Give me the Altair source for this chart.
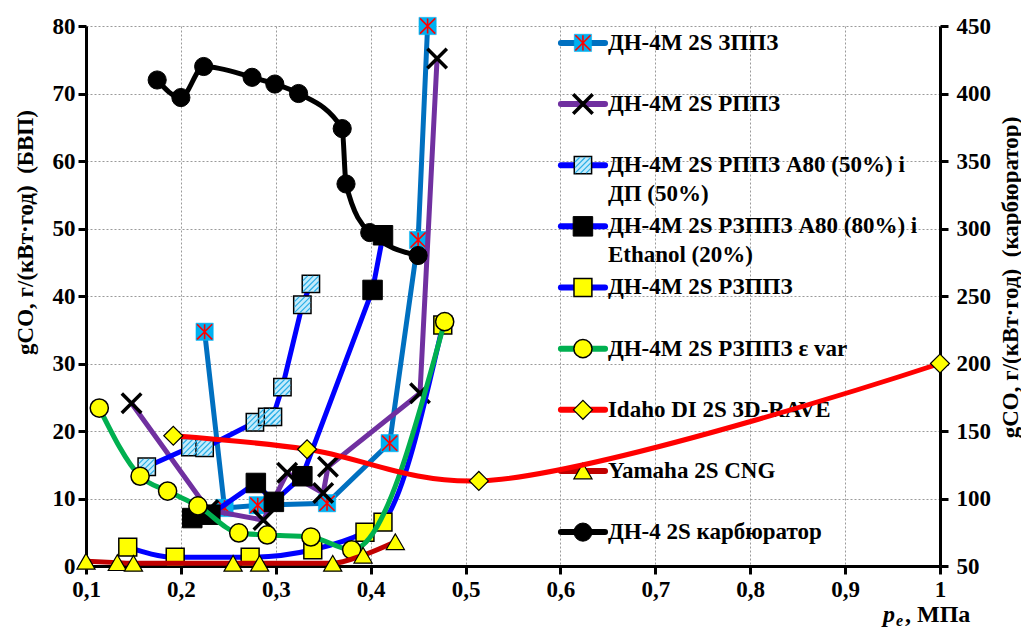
import altair as alt
import pandas as pd

# ---------------- data ----------------
zppz_x = [0.225, 0.246, 0.281, 0.354, 0.420, 0.450, 0.460]
zppz_y = [34.7, 8.6, 9.0, 9.3, 18.2, 48.3, 80.0]

rppz_x = [0.148, 0.229, 0.287, 0.312, 0.350, 0.355, 0.452, 0.470]
rppz_y = [24.1, 8.3, 6.8, 13.8, 10.8, 14.7, 25.6, 75.2]

a80dp_x = [0.164, 0.210, 0.225, 0.278, 0.291, 0.297, 0.307, 0.328, 0.337]
a80dp_y = [14.7, 17.6, 17.5, 21.3, 22.1, 22.1, 26.5, 38.7, 41.8]

eth_x = [0.212, 0.231, 0.279, 0.298, 0.328, 0.402, 0.413]
eth_y = [7.1, 7.6, 12.3, 9.5, 13.3, 40.9, 49.0]

rzppz_x = [0.144, 0.194, 0.273, 0.339, 0.394, 0.413, 0.476]
rzppz_y = [2.8, 1.3, 1.3, 2.4, 5.0, 6.5, 35.7]

evar_x = [0.114, 0.157, 0.186, 0.218, 0.261, 0.291, 0.337, 0.380, 0.478]
evar_y = [23.4, 13.3, 11.1, 8.9, 4.9, 4.6, 4.3, 2.4, 36.2]

idaho_x = [0.192, 0.333, 0.514, 1.0]
idaho_y = [19.3, 17.3, 12.6, 30.0]

yamaha_x = [0.100, 0.133, 0.150, 0.255, 0.283, 0.360, 0.392, 0.426]
yamaha_y = [0.7, 0.5, 0.4, 0.4, 0.4, 0.4, 1.6, 3.6]

carb_x = [0.175, 0.200, 0.224, 0.275, 0.299, 0.324, 0.370, 0.374, 0.399, 0.450]
carb_y = [410, 397, 420, 412, 407, 400, 374, 333, 297, 280]

x_ticks = [0.1, 0.2, 0.3, 0.4, 0.5, 0.6, 0.7, 0.8, 0.9, 1.0]
yl_ticks = [0, 10, 20, 30, 40, 50, 60, 70, 80]
yr_ticks = [50, 100, 150, 200, 250, 300, 350, 400, 450]

legend_labels = [
    "ДН-4М 2S ЗППЗ",
    "ДН-4М 2S РППЗ",
    "ДН-4М 2S РППЗ А80 (50%) і\nДП (50%)",
    "\u00a0ДН-4М 2S РЗППЗ А80 (80%) і\nEthanol (20%)",
    "ДН-4М 2S РЗППЗ",
    "ДН-4М 2S РЗППЗ ε var",
    "Idaho DI 2S 3D-RAVE",
    "Yamaha 2S CNG",
    "ДН-4 2S карбюратор",
]

FONT = "Liberation Serif, Times New Roman, Tinos, DejaVu Serif, serif"
FS = 23

ASTER = "M-1,-1L1,1M-1,1L1,-1M0,-1L0,1"
XMARK = "M-1,-1L1,1M-1,1L1,-1"
HATCH = "M-1,-0.4L-0.4,-1M-1,0.3L0.3,-1M-1,1L1,-1M-0.3,1L1,-0.3M0.4,1L1,0.4"

# style per series: (line colour, interpolation, list of point layers)
styles = [
    ("#0070C0", "linear", [dict(shape="square", size=300, fill="#00B0F0", stroke="#00B0F0", strokeWidth=0.5),
                           dict(shape=ASTER, size=230, stroke="#FF0000", strokeWidth=1.6)]),
    ("#7030A0", "linear", [dict(shape=XMARK, size=380, stroke="#000000", strokeWidth=3.5)]),
    ("#0000FF", "linear", [dict(shape="square", size=300, fill="#c4ebfb", stroke="#000000", strokeWidth=1.5),
                           dict(shape=HATCH, size=250, stroke="#2aaee6", strokeWidth=1.2)]),
    ("#0000FF", "linear", [dict(shape="square", size=380, fill="#000000", stroke="#000000", strokeWidth=1)]),
    ("#0000FF", "monotone", [dict(shape="square", size=320, fill="#FFFF00", stroke="#000000", strokeWidth=1.5)]),
    ("#00B050", "monotone", [dict(shape="circle", size=330, fill="#FFFF00", stroke="#000000", strokeWidth=1.5)]),
    ("#FF0000", "catmull-rom", [dict(shape="diamond", size=360, fill="#FFFF00", stroke="#000000", strokeWidth=1.2)]),
    ("#C00000", "monotone", [dict(shape="triangle-up", size=330, fill="#FFFF00", stroke="#000000", strokeWidth=1.2)]),
    ("#000000", "monotone", [dict(shape="circle", size=330, fill="#000000", stroke="#000000", strokeWidth=1)]),
]

series = [
    (zppz_x, zppz_y), (rppz_x, rppz_y), (a80dp_x, a80dp_y), (eth_x, eth_y),
    (rzppz_x, rzppz_y), (evar_x, evar_y), (idaho_x, idaho_y), (yamaha_x, yamaha_y),
    (carb_x, carb_y),
]

# ---------------- scales & axes ----------------
X_SCALE = alt.Scale(domain=[0.1, 1.0], nice=False, zero=False)
YL_SCALE = alt.Scale(domain=[0, 80], nice=False)
YR_SCALE = alt.Scale(domain=[50, 450], nice=False, zero=False)

common_axis = dict(
    labelFont=FONT, labelFontWeight="bold", labelFontSize=FS, labelColor="black",
    domainColor="black", domainWidth=3, tickColor="black", tickWidth=3, tickSize=8,
    titleFont=FONT, titleFontWeight="bold", titleFontSize=FS, titleColor="black",
)

x_axis = alt.Axis(
    values=x_ticks,
    labelExpr="datum.value > 0.99 ? '1' : replace(format(datum.value, '.1f'), '.', ',')",
    grid=True, gridDash=[2, 2], gridColor="#9a9a9a", gridWidth=1,
    title=None, labelPadding=4, labelFlush=False, **common_axis,
)
yl_axis = alt.Axis(
    values=yl_ticks, grid=True, gridDash=[2, 2], gridColor="#9a9a9a", gridWidth=1,
    title="gCO, г/(кВт·год)\u00a0\u00a0(БВП)", titleAngle=270, titleX=-61, titleY=206,
    titleAlign="center", titleBaseline="middle", labelPadding=3, **common_axis,
)
yr_axis = alt.Axis(
    values=yr_ticks, grid=False, orient="right",
    title="gCO, г/(кВт·год)\u00a0\u00a0(карбюратор)", titleAngle=270, titleX=70, titleY=251,
    titleAlign="center", titleBaseline="middle", labelPadding=8, **common_axis,
)


def xenc():
    return alt.X("x:Q", scale=X_SCALE, axis=x_axis)


def yenc(right=False):
    if right:
        return alt.Y("y:Q", scale=YR_SCALE, axis=yr_axis)
    return alt.Y("y:Q", scale=YL_SCALE, axis=yl_axis)


def point_layers(df, pts, right=False):
    out = []
    for p in pts:
        kw = dict(shape=p["shape"], size=p["size"], stroke=p["stroke"],
                  strokeWidth=p["strokeWidth"], opacity=1)
        if "fill" in p:
            kw.update(filled=True, fill=p["fill"], fillOpacity=1, strokeOpacity=1)
        else:
            kw.update(filled=False, strokeOpacity=1, fillOpacity=0)
        out.append(alt.Chart(df).mark_point(**kw).encode(x=xenc(), y=yenc(right)))
    return out


# ---------------- legend (drawn first, under the series) ----------------
LEG_TOP, LEG_STEP = 77.5, 9.06
LEG_X0, LEG_X1, LEG_XM, LEG_XT = 0.6005, 0.647, 0.6237, 0.650

legend_layers = []
text_rows = []
for i, lab in enumerate(legend_labels):
    yy = LEG_TOP - i * LEG_STEP
    color = styles[i][0]
    ldf = pd.DataFrame({"x": [LEG_X0], "x2": [LEG_X1], "y": [yy]})
    legend_layers.append(
        alt.Chart(ldf).mark_rule(color=color, strokeWidth=6, strokeCap="round").encode(
            x=xenc(), x2="x2:Q", y=yenc()))
    mdf = pd.DataFrame({"x": [LEG_XM], "y": [yy]})
    legend_layers += point_layers(mdf, styles[i][2])
    for j, line in enumerate(lab.split("\n")):
        text_rows.append({"x": LEG_XT, "y": yy - j * 4.2, "label": line})

legend_text = alt.Chart(pd.DataFrame(text_rows)).mark_text(
    align="left", baseline="middle", font=FONT, fontWeight="bold", fontSize=FS, color="black"
).encode(x=xenc(), y=yenc(), text="label:N")

# ---------------- series ----------------
left_layers = []
for k in range(8):
    xs, ys = series[k]
    df = pd.DataFrame({"x": xs, "y": ys, "i": list(range(len(xs)))})
    color, interp, pts = styles[k]
    left_layers.append(
        alt.Chart(df).mark_line(color=color, strokeWidth=5, interpolate=interp).encode(
            x=xenc(), y=yenc(), order="i:Q"))
    left_layers += point_layers(df, pts)

# x-axis title pieces
tdf = pd.DataFrame({"a": [0]})
xt_p = alt.Chart(tdf).mark_text(align="left", baseline="alphabetic", font=FONT, fontWeight="bold",
                                fontStyle="italic", fontSize=24, color="black").encode(
    x=alt.value(797), y=alt.value(596), text=alt.value("p"))
xt_e = alt.Chart(tdf).mark_text(align="left", baseline="alphabetic", font=FONT, fontWeight="bold",
                                fontStyle="italic", fontSize=16, color="black").encode(
    x=alt.value(810), y=alt.value(600), text=alt.value("e"))
xt_u = alt.Chart(tdf).mark_text(align="left", baseline="alphabetic", font=FONT, fontWeight="bold",
                                fontSize=24, color="black").encode(
    x=alt.value(819), y=alt.value(596), text=alt.value(", МПа"))

left = alt.layer(*legend_layers, legend_text, *left_layers, xt_p, xt_e, xt_u)

cxs, cys = series[8]
cdf = pd.DataFrame({"x": cxs, "y": cys, "i": list(range(len(cxs)))})
right = alt.layer(
    alt.Chart(cdf).mark_line(color="#000000", strokeWidth=5, interpolate="monotone").encode(
        x=xenc(), y=yenc(True), order="i:Q"),
    *point_layers(cdf, styles[8][2], right=True),
)

chart = alt.layer(left, right).resolve_scale(y="independent").properties(
    width=854, height=540,
    autosize=alt.AutoSizeParams(type="none"),
    padding={"left": 78, "top": 18, "right": 81, "bottom": 62},
    background="white",
).configure_view(strokeWidth=0)

chart.save("out.html", embed_options={"renderer": "svg", "actions": False})
